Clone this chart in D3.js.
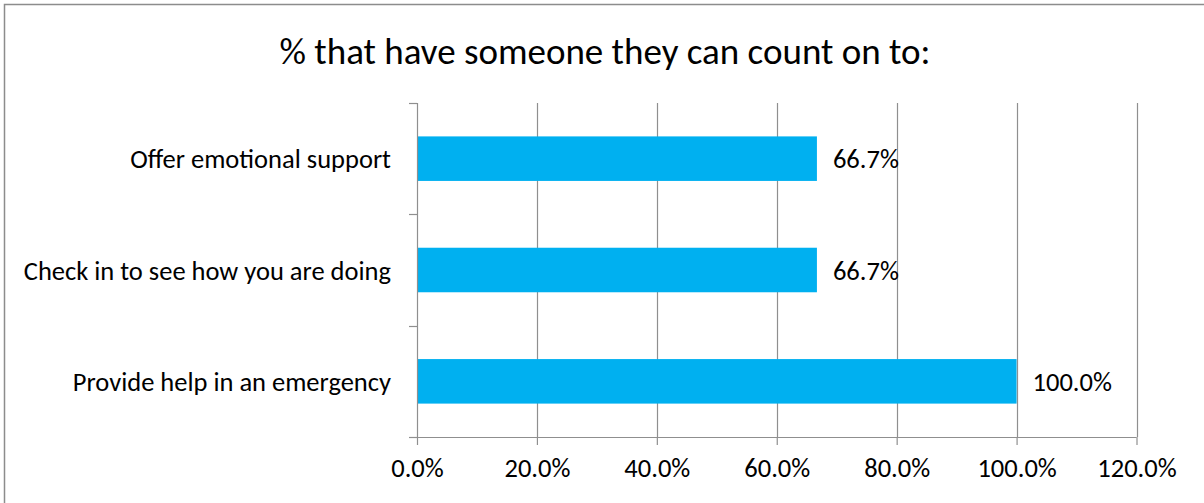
<!DOCTYPE html>
<html>
<head>
<meta charset="utf-8">
<script src="https://cdn.jsdelivr.net/npm/d3@7"></script>
<style>
  html, body { margin: 0; padding: 0; background: #fff; }
  svg { display: block; font-family: Carlito, Lato, "Open Sans", sans-serif; }
</style>
</head>
<body>
<svg id="chart" width="1204" height="503"></svg>
<script>
const title = "% that have someone they can count on to:";
const categories = ["Offer emotional support", "Check in to see how you are doing", "Provide help in an emergency"];
const values = [0.667, 0.667, 1.0];
const valueLabels = ["66.7%", "66.7%", "100.0%"];
const xTicks = [0, 0.2, 0.4, 0.6, 0.8, 1.0, 1.2];
const xTickLabels = ["0.0%", "20.0%", "40.0%", "60.0%", "80.0%", "100.0%", "120.0%"];

const svg = d3.select("#chart");
const W = 1204, H = 503;
const plot = { left: 417, right: 1136.5, top: 103, bottom: 437 };
const gridColor = "#8f8f8f";
const labelSize = 26.5;

// outer chart border
svg.append("rect")
  .attr("x", 4.5).attr("y", 4.5)
  .attr("width", W + 10).attr("height", H + 10)
  .attr("fill", "#fff").attr("stroke", "#8c8c8c").attr("stroke-width", 1.5);

svg.append("text")
  .attr("x", 605).attr("y", 64)
  .attr("text-anchor", "middle")
  .attr("font-size", 37)
  .attr("fill", "#000")
  .text(title);

const x = d3.scaleLinear().domain([0, 1.2]).range([plot.left, plot.right]);
const y = d3.scaleBand().domain(categories).range([plot.top, plot.bottom])
  .paddingInner(0.6).paddingOuter(0.3);

// vertical gridlines
svg.append("g").selectAll("line").data(xTicks.slice(1)).join("line")
  .attr("x1", d => Math.round(x(d)) + 0.5).attr("x2", d => Math.round(x(d)) + 0.5)
  .attr("y1", plot.top).attr("y2", plot.bottom)
  .attr("stroke", gridColor).attr("stroke-width", 1.2);

// bars
svg.append("g").selectAll("rect").data(categories).join("rect")
  .attr("x", x(0))
  .attr("y", d => y(d))
  .attr("width", (d, i) => x(values[i]) - x(0))
  .attr("height", y.bandwidth())
  .attr("fill", "#00B0F0");

// x axis
const xAxis = d3.axisBottom(x).tickValues(xTicks)
  .tickFormat((d, i) => xTickLabels[i]).tickSize(8).tickSizeOuter(0).tickPadding(13);
const gx = svg.append("g").attr("transform", `translate(0,${plot.bottom})`).call(xAxis);
gx.select(".domain").attr("stroke", gridColor).attr("stroke-width", 1.2)
  .attr("d", `M${plot.left - 8},0.5H${plot.right}`);
gx.selectAll(".tick line").attr("stroke", gridColor).attr("stroke-width", 1.2);
gx.selectAll(".tick text").attr("font-size", labelSize).attr("fill", "#000")
  .attr("font-family", "Carlito, Lato, sans-serif");

// y axis
const yAxis = d3.axisLeft(y).tickSize(0).tickPadding(26);
const gy = svg.append("g").attr("transform", `translate(${plot.left},0)`).call(yAxis);
gy.select(".domain").attr("stroke", gridColor).attr("stroke-width", 1.2)
  .attr("d", `M0.5,${plot.top}V${plot.bottom}`);
gy.selectAll(".tick text").attr("font-size", labelSize).attr("fill", "#000")
  .attr("font-family", "Carlito, Lato, sans-serif").attr("dy", "0.36em");

// y tick marks at category boundaries
const bounds = [plot.top].concat(categories.map(c => y(c) + y.bandwidth() + y.step() * 0.3));
svg.append("g").selectAll("line").data(bounds).join("line")
  .attr("x1", plot.left - 8).attr("x2", plot.left)
  .attr("y1", d => Math.round(d) + 0.5).attr("y2", d => Math.round(d) + 0.5)
  .attr("stroke", gridColor).attr("stroke-width", 1.2);

// value labels
svg.append("g").selectAll("text").data(categories).join("text")
  .attr("x", (d, i) => x(values[i]) + 16)
  .attr("y", d => y(d) + y.bandwidth() / 2)
  .attr("dy", "0.36em")
  .attr("font-size", labelSize)
  .attr("fill", "#000")
  .text((d, i) => valueLabels[i]);
</script>
</body>
</html>
